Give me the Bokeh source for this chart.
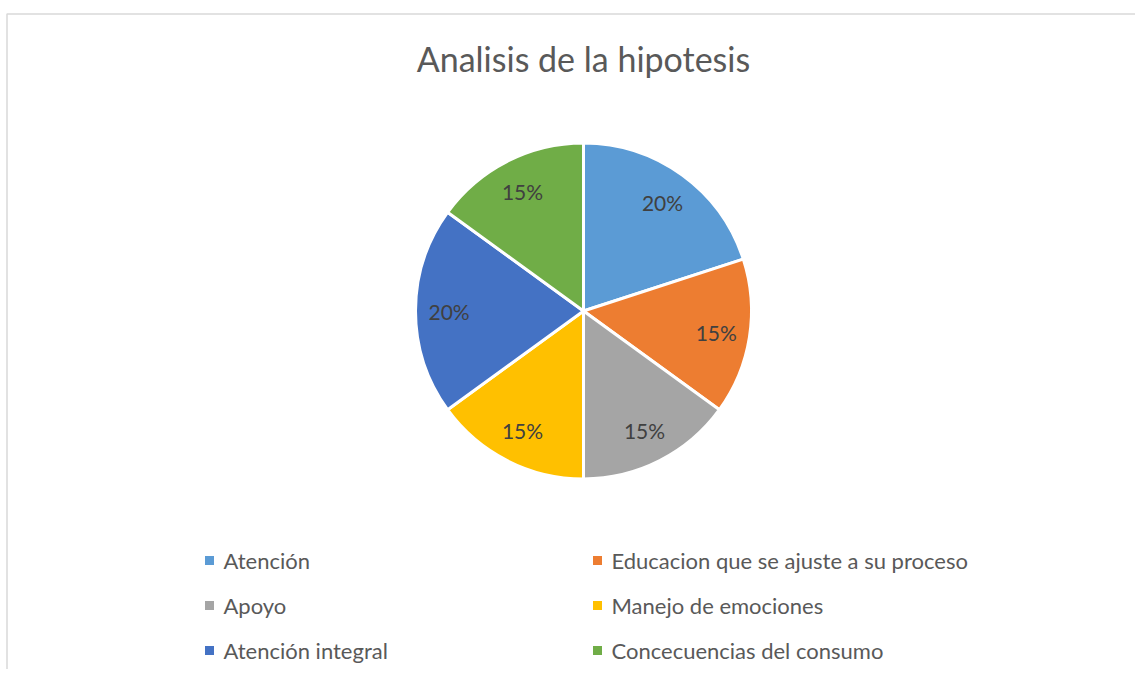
import numpy as np
from bokeh.plotting import figure
from bokeh.models import Range1d, ColumnDataSource
from bokeh.core.properties import value
from bokeh.embed import file_html
from bokeh.resources import INLINE

# ---- data ----
title = "Analisis de la hipotesis"
categories = ["Atención", "Educacion que se ajuste a su proceso", "Apoyo",
              "Manejo de emociones", "Atención integral", "Concecuencias del consumo"]
values = [20, 15, 15, 15, 20, 15]
colors = ["#5B9BD5", "#ED7D31", "#A5A5A5", "#FFC000", "#4472C4", "#70AD47"]

FONT = "Lato"
W, H = 1135, 669
p = figure(width=W, height=H, output_backend="svg", toolbar_location=None,
           x_range=Range1d(0, W), y_range=Range1d(0, H), min_border=0)
p.axis.visible = False
p.grid.visible = False
p.outline_line_color = None
p.background_fill_color = "white"
p.border_fill_color = "white"

def Y(ypix):
    return H - ypix

# chart border
p.line(x=[6.5, 6.5, 1160], y=[-10, Y(13.5), Y(13.5)], line_color="#D9D9D9", line_width=1.5)

# title
p.text(x=[583], y=[Y(58)], text=[title], text_font=value(FONT), text_font_size="34px",
       text_color="#595959", text_align="center", text_baseline="middle")

# pie
cx, cy, R = 583, Y(310.5), 168
vals = np.array(values, dtype=float)
frac = vals / vals.sum()
cum_end = np.cumsum(frac)
cum_start = cum_end - frac
start = np.pi / 2 - cum_end * 2 * np.pi
end = np.pi / 2 - cum_start * 2 * np.pi
src = ColumnDataSource(dict(start=start, end=end, color=colors))
p.wedge(x=cx, y=cy, radius=R, start_angle="start", end_angle="end", fill_color="color",
        line_color="white", line_width=3, source=src)

mid = (start + end) / 2
lr = 0.8 * R
labels = [f"{round(f * 100):d}%" for f in frac]
p.text(x=cx + lr * np.cos(mid), y=cy + lr * np.sin(mid), text=labels,
       text_font=value(FONT), text_font_size="21px", text_color="#404040",
       text_align="center", text_baseline="middle")

# legend (2 columns, 3 rows)
col_x = [209, 597]
row_y = [560, 605, 650]
mx, my = [], []
for i in range(len(categories)):
    mx.append(col_x[i % 2])
    my.append(Y(row_y[i // 2]))
p.scatter(x=mx, y=my, marker="square", size=9, fill_color=colors, line_color=None)
p.text(x=[x + 14 for x in mx], y=my, text=categories, text_font=value(FONT),
       text_font_size="22px", text_color="#595959", text_align="left",
       text_baseline="middle")

open("out.html", "w").write(file_html(p, INLINE))
